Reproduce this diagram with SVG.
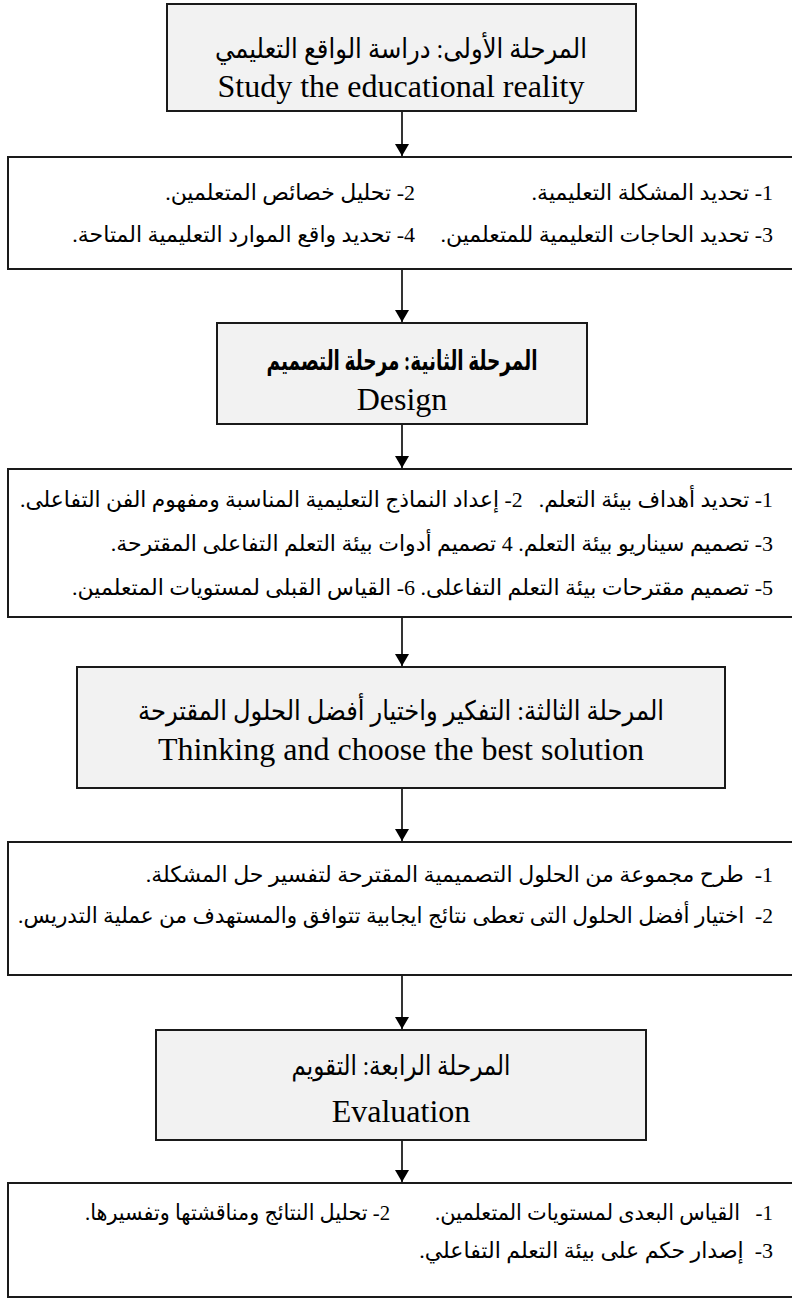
<svg xmlns="http://www.w3.org/2000/svg" width="792" height="1302" viewBox="0 0 792 1302">
<style>
.title{fill:#f2f2f2;stroke:#1a1a1a;stroke-width:2}
.list{fill:#ffffff;stroke:#1a1a1a;stroke-width:2}
.t{font-family:"Liberation Serif","DejaVu Sans",serif;fill:#000}
.ar{font-size:27px;direction:rtl}
.en{font-size:32px}
.row{font-family:"Liberation Serif","DejaVu Sans",serif;font-size:22px;fill:#000;direction:rtl;white-space:pre}
.c{stroke:#000;stroke-width:1.6;fill:none}
</style>
<defs>
<marker id="ah" viewBox="0 0 12 14" refX="12" refY="7" markerWidth="12" markerHeight="14" markerUnits="userSpaceOnUse" orient="auto">
<path d="M0,0 L12,7 L0,14 Z" fill="#000"/>
</marker>
</defs>
<g id="connectors">
<line class="c" x1="402" y1="111" x2="402" y2="156" marker-end="url(#ah)"/>
<line class="c" x1="402" y1="269" x2="402" y2="322" marker-end="url(#ah)"/>
<line class="c" x1="402" y1="424" x2="402" y2="468" marker-end="url(#ah)"/>
<line class="c" x1="402" y1="617" x2="402" y2="666" marker-end="url(#ah)"/>
<line class="c" x1="402" y1="788" x2="402" y2="841" marker-end="url(#ah)"/>
<line class="c" x1="402" y1="975" x2="402" y2="1029" marker-end="url(#ah)"/>
<line class="c" x1="402" y1="1140" x2="402" y2="1182" marker-end="url(#ah)"/>
</g>
<g id="stage1">
<rect class="title" x="167" y="4" width="469" height="107"/>
<text class="t ar" x="401" y="58" text-anchor="middle" textLength="372" lengthAdjust="spacingAndGlyphs">المرحلة الأولى: دراسة الواقع التعليمي</text>
<text class="t en" x="401" y="97" text-anchor="middle">Study the educational reality</text>
</g>
<g id="stage1-items">
<rect class="list" x="8" y="157" width="790" height="112"/>
<text class="row" x="773" y="200" text-anchor="start">1- تحديد المشكلة التعليمية.</text>
<text class="row" x="415" y="200" text-anchor="start">2- تحليل خصائص المتعلمين.</text>
<text class="row" x="773" y="242" text-anchor="start">3- تحديد الحاجات التعليمية للمتعلمين.</text>
<text class="row" x="415" y="242" text-anchor="start">4- تحديد واقع الموارد التعليمية المتاحة.</text>
</g>
<g id="stage2">
<rect class="title" x="217" y="323" width="370" height="101"/>
<text class="t ar" x="402" y="370" text-anchor="middle" font-weight="bold" font-size="23" textLength="271" lengthAdjust="spacingAndGlyphs">المرحلة الثانية: مرحلة التصميم</text>
<text class="t en" x="402" y="410" text-anchor="middle" font-size="26">Design</text>
</g>
<g id="stage2-items">
<rect class="list" x="8" y="469" width="790" height="148"/>
<text class="row" x="773" y="507" text-anchor="start" textLength="753" lengthAdjust="spacingAndGlyphs">1- تحديد أهداف بيئة التعلم.   2- إعداد النماذج التعليمية المناسبة ومفهوم الفن التفاعلى.</text>
<text class="row" x="773" y="551" text-anchor="start">3- تصميم سيناريو بيئة التعلم. 4 تصميم أدوات بيئة التعلم التفاعلى المقترحة.</text>
<text class="row" x="773" y="595" text-anchor="start">5- تصميم مقترحات بيئة التعلم التفاعلى. 6- القياس القبلى لمستويات المتعلمين.</text>
</g>
<g id="stage3">
<rect class="title" x="77" y="667" width="648" height="121"/>
<text class="t ar" x="401" y="720" text-anchor="middle" textLength="526" lengthAdjust="spacingAndGlyphs">المرحلة الثالثة: التفكير واختيار أفضل الحلول المقترحة</text>
<text class="t en" x="401" y="760" text-anchor="middle">Thinking and choose the best solution</text>
</g>
<g id="stage3-items">
<rect class="list" x="8" y="842" width="790" height="133"/>
<text class="row" x="773" y="882" text-anchor="start">1-  طرح مجموعة من الحلول التصميمية المقترحة لتفسير حل المشكلة.</text>
<text class="row" x="773" y="923" text-anchor="start" textLength="755" lengthAdjust="spacingAndGlyphs">2-  اختيار أفضل الحلول التى تعطى نتائج ايجابية تتوافق والمستهدف من عملية التدريس.</text>
</g>
<g id="stage4">
<rect class="title" x="156" y="1030" width="490" height="110"/>
<text class="t ar" x="401" y="1075" text-anchor="middle" textLength="219" lengthAdjust="spacingAndGlyphs">المرحلة الرابعة: التقويم</text>
<text class="t en" x="401" y="1122" text-anchor="middle">Evaluation</text>
</g>
<g id="stage4-items">
<rect class="list" x="8" y="1183" width="790" height="114"/>
<text class="row" x="773" y="1220" text-anchor="start" textLength="338" lengthAdjust="spacingAndGlyphs">1-   القياس البعدى لمستويات المتعلمين.</text>
<text class="row" x="390" y="1220" text-anchor="start" textLength="305" lengthAdjust="spacingAndGlyphs">2- تحليل النتائج ومناقشتها وتفسيرها.</text>
<text class="row" x="773" y="1258" text-anchor="start">3-  إصدار حكم على بيئة التعلم التفاعلي.</text>
</g>
</svg>
